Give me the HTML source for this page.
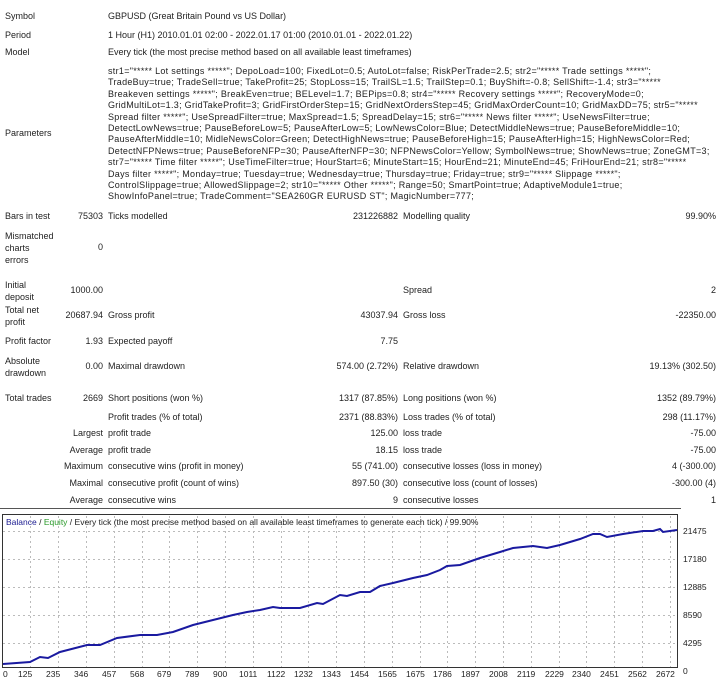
<!DOCTYPE html>
<html><head><meta charset="utf-8"><style>
body{margin:0;width:722px;height:678px;background:#fff;overflow:hidden;font-family:"Liberation Sans",Tahoma,sans-serif;font-size:9px;color:#222;position:relative}
.t{position:absolute;white-space:nowrap;line-height:11px}
.r{text-align:right}
</style></head><body>
<div class="t" style="left:5px;top:11px">Symbol</div>
<div class="t" style="left:108px;top:11px">GBPUSD (Great Britain Pound vs US Dollar)</div>
<div class="t" style="left:5px;top:30px">Period</div>
<div class="t" style="left:108px;top:30px">1 Hour (H1) 2010.01.01 02:00 - 2022.01.17 01:00 (2010.01.01 - 2022.01.22)</div>
<div class="t" style="left:5px;top:47px">Model</div>
<div class="t" style="left:108px;top:47px">Every tick (the most precise method based on all available least timeframes)</div>
<div class="t" style="left:5px;top:128px">Parameters</div>
<div class="t" style="left:108px;top:66px;line-height:11.4px;letter-spacing:0.3px">str1="***** Lot settings *****"; DepoLoad=100; FixedLot=0.5; AutoLot=false; RiskPerTrade=2.5; str2="***** Trade settings *****";<br>TradeBuy=true; TradeSell=true; TakeProfit=25; StopLoss=15; TrailSL=1.5; TrailStep=0.1; BuyShift=-0.8; SellShift=-1.4; str3="*****<br>Breakeven settings *****"; BreakEven=true; BELevel=1.7; BEPips=0.8; str4="***** Recovery settings *****"; RecoveryMode=0;<br>GridMultiLot=1.3; GridTakeProfit=3; GridFirstOrderStep=15; GridNextOrdersStep=45; GridMaxOrderCount=10; GridMaxDD=75; str5="*****<br>Spread filter *****"; UseSpreadFilter=true; MaxSpread=1.5; SpreadDelay=15; str6="***** News filter *****"; UseNewsFilter=true;<br>DetectLowNews=true; PauseBeforeLow=5; PauseAfterLow=5; LowNewsColor=Blue; DetectMiddleNews=true; PauseBeforeMiddle=10;<br>PauseAfterMiddle=10; MidleNewsColor=Green; DetectHighNews=true; PauseBeforeHigh=15; PauseAfterHigh=15; HighNewsColor=Red;<br>DetectNFPNews=true; PauseBeforeNFP=30; PauseAfterNFP=30; NFPNewsColor=Yellow; SymbolNews=true; ShowNews=true; ZoneGMT=3;<br>str7="***** Time filter *****"; UseTimeFilter=true; HourStart=6; MinuteStart=15; HourEnd=21; MinuteEnd=45; FriHourEnd=21; str8="*****<br>Days filter *****"; Monday=true; Tuesday=true; Wednesday=true; Thursday=true; Friday=true; str9="***** Slippage *****";<br>ControlSlippage=true; AllowedSlippage=2; str10="***** Other *****"; Range=50; SmartPoint=true; AdaptiveModule1=true;<br>ShowInfoPanel=true; TradeComment="SEA260GR EURUSD ST"; MagicNumber=777;</div>

<div class="t" style="left:5px;top:211px">Bars in test</div>
<div class="t r" style="right:619px;top:211px">75303</div>
<div class="t" style="left:108px;top:211px">Ticks modelled</div>
<div class="t r" style="right:324px;top:211px">231226882</div>
<div class="t" style="left:403px;top:211px">Modelling quality</div>
<div class="t r" style="right:6px;top:211px">99.90%</div>

<div class="t" style="left:5px;top:230px;line-height:12px">Mismatched<br>charts<br>errors</div>
<div class="t r" style="right:619px;top:242px">0</div>

<div class="t" style="left:5px;top:279px;line-height:12px">Initial<br>deposit</div>
<div class="t r" style="right:619px;top:285px">1000.00</div>
<div class="t" style="left:403px;top:285px">Spread</div>
<div class="t r" style="right:6px;top:285px">2</div>

<div class="t" style="left:5px;top:304px;line-height:12px">Total net<br>profit</div>
<div class="t r" style="right:619px;top:310px">20687.94</div>
<div class="t" style="left:108px;top:310px">Gross profit</div>
<div class="t r" style="right:324px;top:310px">43037.94</div>
<div class="t" style="left:403px;top:310px">Gross loss</div>
<div class="t r" style="right:6px;top:310px">-22350.00</div>

<div class="t" style="left:5px;top:336px">Profit factor</div>
<div class="t r" style="right:619px;top:336px">1.93</div>
<div class="t" style="left:108px;top:336px">Expected payoff</div>
<div class="t r" style="right:324px;top:336px">7.75</div>

<div class="t" style="left:5px;top:355px;line-height:12px">Absolute<br>drawdown</div>
<div class="t r" style="right:619px;top:361px">0.00</div>
<div class="t" style="left:108px;top:361px">Maximal drawdown</div>
<div class="t r" style="right:324px;top:361px">574.00 (2.72%)</div>
<div class="t" style="left:403px;top:361px">Relative drawdown</div>
<div class="t r" style="right:6px;top:361px">19.13% (302.50)</div>

<div class="t" style="left:5px;top:393px">Total trades</div>
<div class="t r" style="right:619px;top:393px">2669</div>
<div class="t" style="left:108px;top:393px">Short positions (won %)</div>
<div class="t r" style="right:324px;top:393px">1317 (87.85%)</div>
<div class="t" style="left:403px;top:393px">Long positions (won %)</div>
<div class="t r" style="right:6px;top:393px">1352 (89.79%)</div>

<div class="t" style="left:108px;top:412px">Profit trades (% of total)</div>
<div class="t r" style="right:324px;top:412px">2371 (88.83%)</div>
<div class="t" style="left:403px;top:412px">Loss trades (% of total)</div>
<div class="t r" style="right:6px;top:412px">298 (11.17%)</div>

<div class="t r" style="right:619px;top:428px">Largest</div>
<div class="t" style="left:108px;top:428px">profit trade</div>
<div class="t r" style="right:324px;top:428px">125.00</div>
<div class="t" style="left:403px;top:428px">loss trade</div>
<div class="t r" style="right:6px;top:428px">-75.00</div>

<div class="t r" style="right:619px;top:445px">Average</div>
<div class="t" style="left:108px;top:445px">profit trade</div>
<div class="t r" style="right:324px;top:445px">18.15</div>
<div class="t" style="left:403px;top:445px">loss trade</div>
<div class="t r" style="right:6px;top:445px">-75.00</div>

<div class="t r" style="right:619px;top:461px">Maximum</div>
<div class="t" style="left:108px;top:461px">consecutive wins (profit in money)</div>
<div class="t r" style="right:324px;top:461px">55 (741.00)</div>
<div class="t" style="left:403px;top:461px">consecutive losses (loss in money)</div>
<div class="t r" style="right:6px;top:461px">4 (-300.00)</div>

<div class="t r" style="right:619px;top:478px">Maximal</div>
<div class="t" style="left:108px;top:478px">consecutive profit (count of wins)</div>
<div class="t r" style="right:324px;top:478px">897.50 (30)</div>
<div class="t" style="left:403px;top:478px">consecutive loss (count of losses)</div>
<div class="t r" style="right:6px;top:478px">-300.00 (4)</div>

<div class="t r" style="right:619px;top:495px">Average</div>
<div class="t" style="left:108px;top:495px">consecutive wins</div>
<div class="t r" style="right:324px;top:495px">9</div>
<div class="t" style="left:403px;top:495px">consecutive losses</div>
<div class="t r" style="right:6px;top:495px">1</div>

<div style="position:absolute;left:0;top:508px;width:681px;height:1px;background:#555"></div>

<svg style="position:absolute;left:0;top:0" width="722" height="678">
<g stroke="#bbb" stroke-width="1" stroke-dasharray="2,3" fill="none">
<line x1="3" y1="531.5" x2="677" y2="531.5"/><line x1="3" y1="559.5" x2="677" y2="559.5"/><line x1="3" y1="587.5" x2="677" y2="587.5"/><line x1="3" y1="615.5" x2="677" y2="615.5"/><line x1="3" y1="643.5" x2="677" y2="643.5"/>
<line x1="30.5" y1="516" x2="30.5" y2="668"/><line x1="58.5" y1="516" x2="58.5" y2="668"/><line x1="86.5" y1="516" x2="86.5" y2="668"/><line x1="114.5" y1="516" x2="114.5" y2="668"/><line x1="142.5" y1="516" x2="142.5" y2="668"/><line x1="169.5" y1="516" x2="169.5" y2="668"/><line x1="197.5" y1="516" x2="197.5" y2="668"/><line x1="225.5" y1="516" x2="225.5" y2="668"/><line x1="253.5" y1="516" x2="253.5" y2="668"/><line x1="281.5" y1="516" x2="281.5" y2="668"/><line x1="308.5" y1="516" x2="308.5" y2="668"/><line x1="336.5" y1="516" x2="336.5" y2="668"/><line x1="364.5" y1="516" x2="364.5" y2="668"/><line x1="392.5" y1="516" x2="392.5" y2="668"/><line x1="420.5" y1="516" x2="420.5" y2="668"/><line x1="447.5" y1="516" x2="447.5" y2="668"/><line x1="475.5" y1="516" x2="475.5" y2="668"/><line x1="503.5" y1="516" x2="503.5" y2="668"/><line x1="531.5" y1="516" x2="531.5" y2="668"/><line x1="559.5" y1="516" x2="559.5" y2="668"/><line x1="586.5" y1="516" x2="586.5" y2="668"/><line x1="614.5" y1="516" x2="614.5" y2="668"/><line x1="642.5" y1="516" x2="642.5" y2="668"/><line x1="670.5" y1="516" x2="670.5" y2="668"/>
</g>
<rect x="2.5" y="514.5" width="675" height="153" fill="none" stroke="#333" stroke-width="1"/>
<polyline fill="none" stroke="#1a1aa0" stroke-width="2" points="3,664 30,662 40,657 48,658 60,652 87,645 100,645 117,638 140,635 157,635 173,632 193,625 213,620 233,615 247,612 260,610 273,607 280,608 300,608 317,603 323,604 340,595 347,596 360,592 370,592 380,586 393,583 413,578 427,575 440,570 447,566 460,565 480,558 500,552 513,548 533,546 547,548 560,545 580,539 593,534 600,534 607,537 623,534 643,531 653,531 660,529 663,532 677,530"/>
<g font-family="Liberation Sans, sans-serif" font-size="8.5" fill="#222">
<text x="683" y="534">21475</text><text x="683" y="562">17180</text><text x="683" y="590">12885</text><text x="683" y="618">8590</text><text x="683" y="646">4295</text><text x="683" y="674">0</text>
<text x="3" y="677">0</text><text x="18" y="677">125</text><text x="46" y="677">235</text><text x="74" y="677">346</text><text x="102" y="677">457</text><text x="130" y="677">568</text><text x="157" y="677">679</text><text x="185" y="677">789</text><text x="213" y="677">900</text><text x="239" y="677">1011</text><text x="267" y="677">1122</text><text x="294" y="677">1232</text><text x="322" y="677">1343</text><text x="350" y="677">1454</text><text x="378" y="677">1565</text><text x="406" y="677">1675</text><text x="433" y="677">1786</text><text x="461" y="677">1897</text><text x="489" y="677">2008</text><text x="517" y="677">2119</text><text x="545" y="677">2229</text><text x="572" y="677">2340</text><text x="600" y="677">2451</text><text x="628" y="677">2562</text><text x="656" y="677">2672</text>
<text x="6" y="525"><tspan fill="#1a1a90">Balance</tspan> / <tspan fill="#2a9a2a">Equity</tspan> / Every tick (the most precise method based on all available least timeframes to generate each tick) / 99.90%</text>
</g>
</svg>
</body></html>
